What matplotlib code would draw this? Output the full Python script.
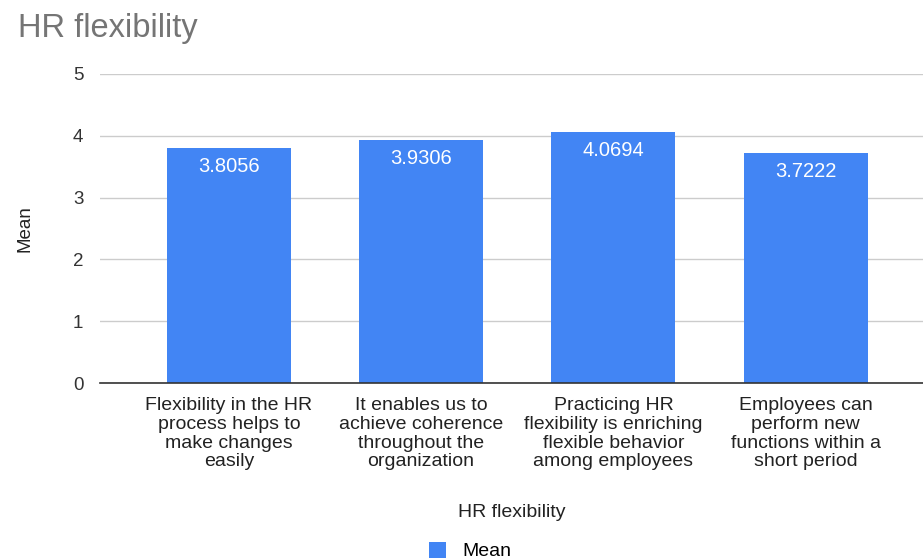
import matplotlib

matplotlib.use("Agg")
import matplotlib.pyplot as plt

categories = [
    "Flexibility in the HR\nprocess helps to\nmake changes\neasily",
    "It enables us to\nachieve coherence\nthroughout the\norganization",
    "Practicing HR\nflexibility is enriching\nflexible behavior\namong employees",
    "Employees can\nperform new\nfunctions within a\nshort period",
]
means = [3.8056, 3.9306, 4.0694, 3.7222]
y_ticks = [0, 1, 2, 3, 4, 5]

BLUE = "#4285F4"

plt.rcParams["font.family"] = ["Liberation Sans", "DejaVu Sans"]

fig = plt.figure(figsize=(9.23, 5.6), dpi=100)
ax = fig.add_axes([100 / 923, 1 - 383 / 560, 1 - 100 / 923, (383 - 74) / 560])

x = list(range(len(categories)))
bars = ax.bar(x, means, width=0.645, color=BLUE, zorder=3, label="Mean")

for bar, value in zip(bars, means):
    ax.annotate(
        f"{value:.4f}",
        xy=(bar.get_x() + bar.get_width() / 2, bar.get_height()),
        xytext=(0, -13.5),
        textcoords="offset points",
        ha="center",
        va="center",
        color="white",
        fontsize=14.5,
        zorder=4,
    )

ax.set_ylim(0, 5)
ax.set_xlim(-0.67, 3.61)
ax.set_yticks(y_ticks)
ax.set_yticklabels([str(t) for t in y_ticks], fontsize=13.5, color="#333333")
ax.set_xticks(x)
ax.set_xticklabels(categories, fontsize=14, color="#222222", linespacing=1.14)
ax.tick_params(axis="both", length=0)
ax.tick_params(axis="y", pad=12)
ax.tick_params(axis="x", pad=10)

ax.grid(axis="y", color="#cccccc", linewidth=1, zorder=0)
for side in ["top", "right", "left"]:
    ax.spines[side].set_visible(False)
ax.spines["bottom"].set_color("#333333")
ax.spines["bottom"].set_linewidth(1.2)
ax.spines["bottom"].set_zorder(5)

ax.set_ylabel("Mean", fontsize=13.5, color="#222222", labelpad=28)
ax.set_xlabel("HR flexibility", fontsize=14, color="#222222", labelpad=24)

fig.text(18 / 923, 1 - 28 / 560, "HR flexibility", fontsize=23.5, color="#757575",
         ha="left", va="center")

fig.legend(loc="center", bbox_to_anchor=(470 / 923, 1 - 551 / 560), frameon=False,
           fontsize=14, handlelength=0.9, handleheight=0.9, handletextpad=0.8,
           borderaxespad=0, borderpad=0)

fig.savefig("out.png", dpi=100)
